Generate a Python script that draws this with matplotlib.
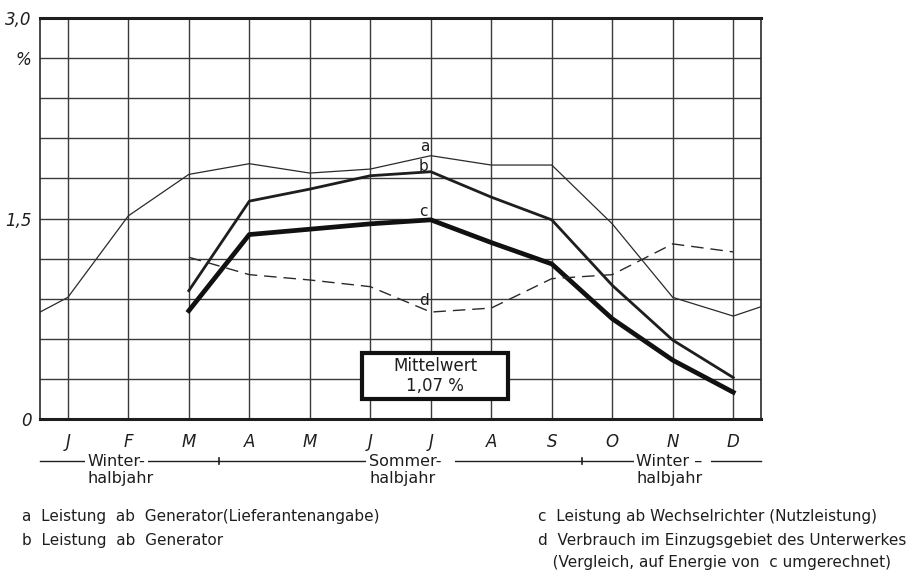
import numpy as np
import matplotlib.pyplot as plt
import matplotlib.transforms as mtransforms
from matplotlib.patches import Rectangle

# monthly values in %
months = ['J', 'F', 'M', 'A', 'M', 'J', 'J', 'A', 'S', 'O', 'N', 'D']
a_vals = [0.91, 1.52, 1.83, 1.91, 1.84, 1.87, 1.97, 1.90, 1.90, 1.46, 0.91, 0.77]
a_edges = [0.80, 0.84]  # curve a runs on to the frame (Dec -> Jan)
b_vals = [None, None, 0.96, 1.63, 1.72, 1.82, 1.85, 1.66, 1.49, 1.00, 0.59, 0.31]
c_vals = [None, None, 0.81, 1.38, 1.42, 1.46, 1.49, 1.32, 1.16, 0.75, 0.44, 0.20]
d_vals = [None, None, 1.21, 1.08, 1.04, 0.99, 0.80, 0.83, 1.05, 1.08, 1.31, 1.25]
ytick_vals = [0, 0.3, 0.6, 0.9, 1.2, 1.5, 1.8, 2.1, 2.4, 2.7, 3.0]
ytick_labels = ['0', '', '', '', '', '1,5', '', '', '', '%', '3,0']
mittelwert = '1,07 %'
legend_left = ['a  Leistung  ab  Generator(Lieferantenangabe)',
               'b  Leistung  ab  Generator']
legend_right = ['c  Leistung ab Wechselrichter (Nutzleistung)',
                'd  Verbrauch im Einzugsgebiet des Unterwerkes',
                '   (Vergleich, auf Energie von  c umgerechnet)']

ink = '#1e1e1e'
x = np.arange(len(months))
xlim = (-0.46, 11.46)

def to_arr(v):
    return np.array([np.nan if i is None else i for i in v], dtype=float)

fig = plt.figure(figsize=(9.12, 5.72), dpi=100)
ax = fig.add_axes([0.0439, 0.2675, 0.7906, 0.701])

ax.set_xlim(*xlim)
ax.set_ylim(0, 3.0)

# grid
ax.set_xticks(x)
ax.set_xticklabels(months, fontsize=12, style='italic', color=ink)
ax.set_yticks(ytick_vals)
ax.set_yticklabels(ytick_labels, fontsize=12, style='italic', color=ink)
ax.tick_params(length=0)
ax.tick_params(axis='x', pad=10)
ax.tick_params(axis='y', pad=6)
ax.grid(True, color='#3a3a3a', lw=1.0)
ax.set_axisbelow(True)
for s in ['left', 'right']:
    ax.spines[s].set_linewidth(1.2)
    ax.spines[s].set_color('#2a2a2a')
for s in ['top', 'bottom']:
    ax.spines[s].set_linewidth(2.2)
    ax.spines[s].set_color(ink)

# curves
xa = np.concatenate([[xlim[0]], x, [xlim[1]]])
ya = np.concatenate([[a_edges[0]], a_vals, [a_edges[1]]])
ax.plot(xa, ya, color='#2a2a2a', lw=0.9, zorder=3)
ax.plot(x, to_arr(b_vals), color=ink, lw=2.0, zorder=3)
ax.plot(x, to_arr(c_vals), color='#111111', lw=3.4, zorder=3)
ax.plot(x, to_arr(d_vals), color='#2a2a2a', lw=1.0, dashes=(9, 5), zorder=3)

# curve letters at July
jul = 6
for lab, vals, off in [('a', a_vals, (-4, 6.5)), ('b', b_vals, (-5, 4)),
                        ('c', c_vals, (-5, 6)), ('d', d_vals, (-5, 8))]:
    ax.annotate(lab, (x[jul], vals[jul]), xytext=off, textcoords='offset points',
                fontsize=11, color=ink, ha='center', va='center', zorder=4)

# Mittelwert box
ax.add_patch(Rectangle((0.4465, 0.05), 0.2025, 0.1147, transform=ax.transAxes,
                       facecolor='white', edgecolor='#111111', lw=3, zorder=5))
ax.text(0.548, 0.131, 'Mittelwert', transform=ax.transAxes, fontsize=12,
        ha='center', va='center', color=ink, zorder=6)
ax.text(0.548, 0.082, mittelwert, transform=ax.transAxes, fontsize=12,
        ha='center', va='center', color=ink, zorder=6)

# half-year bar under the months
trans = mtransforms.blended_transform_factory(ax.transData, ax.transAxes)
yb = -0.105
ax.plot(xlim, [yb, yb], transform=trans, color=ink, lw=1.0, clip_on=False)
for xt in [2.5, 8.5]:
    ax.plot([xt, xt], [yb - 0.008, yb + 0.008], transform=trans, color=ink,
            lw=1.2, clip_on=False)
for xt, top in [(0.33, 'Winter-'), (4.98, 'Sommer-  '), (9.40, 'Winter – ')]:
    ax.text(xt, yb, top, transform=trans, fontsize=11.5, ha='left', va='center',
            color=ink, clip_on=False,
            bbox=dict(facecolor='white', edgecolor='none', pad=2))
    ax.text(xt, yb - 0.044, 'halbjahr', transform=trans, fontsize=11.5,
            ha='left', va='center', color=ink, clip_on=False)

# legend text
for i, t in enumerate(legend_left):
    fig.text(22 / 912, 1 - (517 + 23 * i) / 572, t, fontsize=11,
             ha='left', va='center', color=ink)
for i, t in enumerate(legend_right):
    fig.text(538 / 912, 1 - (517 + 23 * i) / 572, t, fontsize=11,
             ha='left', va='center', color=ink)

fig.savefig('out.png', dpi=100, facecolor='white')
